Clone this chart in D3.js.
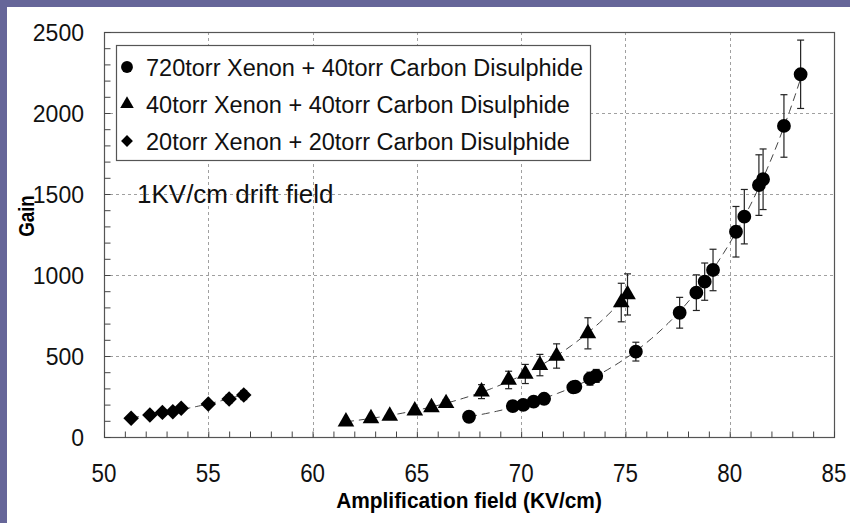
<!DOCTYPE html>
<html>
<head>
<meta charset="utf-8">
<script src="https://cdn.jsdelivr.net/npm/d3@7"></script>
<style>
  body { margin: 0; background: #666699; }
  svg { display: block; font-family: "Liberation Sans", Arial, sans-serif; }
</style>
</head>
<body>
<script>
// 720torr Xenon + 40torr CS2 (circles)
var circleField = [67.5, 69.6, 70.1, 70.6, 71.1, 72.5, 72.6, 73.3, 73.6, 75.5, 77.6, 78.4, 78.8, 79.2, 80.3, 80.7, 81.4, 81.6, 82.6, 83.4];
var circleGain  = [125, 191, 198, 218, 236, 307, 310, 360, 377, 527, 767, 891, 959, 1031, 1267, 1360, 1555, 1591, 1920, 2239];
var circleErr   = [10, 15, 15, 18, 20, 25, 25, 40, 40, 58, 95, 110, 115, 128, 156, 168, 187, 187, 193, 211];

// 40torr Xenon + 40torr CS2 (triangles)
var triField = [61.6, 62.8, 63.7, 64.9, 65.7, 66.4, 68.1, 69.4, 70.2, 70.9, 71.7, 73.2, 74.8, 75.1];
var triGain  = [95, 115, 130, 163, 183, 208, 280, 352, 389, 444, 500, 640, 830, 880];
var triErr   = [10, 12, 13, 16, 18, 21, 43, 54, 59, 66, 75, 96, 119, 127];

// 20torr Xenon + 20torr CS2 (diamonds)
var diaField = [51.3, 52.2, 52.8, 53.3, 53.7, 55.0, 56.0, 56.7];
var diaGain  = [115, 136, 152, 156, 177, 204, 235, 259];
var diaErr   = [8, 10, 10, 12, 12, 20, 25, 28];

var legendLabels = ["720torr Xenon + 40torr Carbon Disulphide",
                    "40torr Xenon + 40torr Carbon Disulphide",
                    "20torr Xenon + 20torr Carbon Disulphide"];
var xTicks = [50, 55, 60, 65, 70, 75, 80, 85];
var yTicks = [0, 500, 1000, 1500, 2000, 2500];

var W = 850, H = 523;
var plotL = 104, plotR = 834, plotT = 32, plotB = 437;

var svg = d3.select("body").append("svg")
  .attr("width", W).attr("height", H);

// slide background with white panel
svg.append("rect").attr("width", W).attr("height", H).attr("fill", "#666699");
svg.append("rect").attr("x", 7).attr("y", 7).attr("width", W - 7).attr("height", H - 7).attr("fill", "#fff");

var x = d3.scaleLinear().domain([50, 85]).range([plotL, plotR]);
var y = d3.scaleLinear().domain([0, 2500]).range([plotB, plotT]);

// grid lines
var grid = svg.append("g").attr("stroke", "#a0a0a0").attr("stroke-dasharray", "3,3").attr("stroke-width", 1);
grid.selectAll(".gx").data(xTicks.slice(1, -1)).enter().append("line")
  .attr("x1", function(d) { return Math.round(x(d)) + 0.5; })
  .attr("x2", function(d) { return Math.round(x(d)) + 0.5; })
  .attr("y1", plotT).attr("y2", plotB);
grid.selectAll(".gy").data(yTicks.slice(1, -1)).enter().append("line")
  .attr("y1", function(d) { return Math.round(y(d)) + 0.5; })
  .attr("y2", function(d) { return Math.round(y(d)) + 0.5; })
  .attr("x1", plotL).attr("x2", plotR);

// frame
svg.append("rect").attr("x", plotL + 0.5).attr("y", plotT + 0.5)
  .attr("width", plotR - plotL).attr("height", plotB - plotT)
  .attr("fill", "none").attr("stroke", "#555").attr("stroke-width", 1.2);

// minor ticks pointing inward
var axisY = d3.axisRight(y).tickValues(d3.range(0, 2501, 100)).tickSize(6).tickFormat("");
svg.append("g").attr("transform", "translate(" + (plotL + 0.5) + ",0)").call(axisY)
  .call(function(g) { g.select(".domain").remove(); g.selectAll("line").attr("stroke", "#444"); });
var axisX = d3.axisTop(x).tickValues(d3.range(50, 85.1, 1)).tickSize(6).tickFormat("");
svg.append("g").attr("transform", "translate(0," + (plotB + 0.5) + ")").call(axisX)
  .call(function(g) { g.select(".domain").remove(); g.selectAll("line").attr("stroke", "#444"); });

// tick labels
svg.selectAll(".yl").data(yTicks).enter().append("text")
  .attr("x", 84).attr("y", function(d) { return y(d) + 9; })
  .attr("text-anchor", "end").attr("font-size", 23).attr("fill", "#111")
  .text(function(d) { return d; });
svg.selectAll(".xl").data(xTicks).enter().append("text")
  .attr("transform", function(d) { return "translate(" + x(d) + ",482) scale(0.86,1)"; })
  .attr("text-anchor", "middle").attr("font-size", 26).attr("fill", "#111")
  .text(function(d) { return d; });

// axis titles
svg.append("text")
  .attr("transform", "translate(" + (plotL + plotR) / 2 + ",508) scale(0.95,1)")
  .attr("text-anchor", "middle").attr("font-size", 22).attr("font-weight", "bold")
  .text("Amplification field (KV/cm)");
svg.append("text")
  .attr("transform", "translate(34,216) rotate(-90) scale(0.85,1)")
  .attr("text-anchor", "middle").attr("font-size", 22).attr("font-weight", "bold")
  .text("Gain");

// exponential fit from the measured points (least squares on log gain)
function expFit(xs, ys) {
  var n = xs.length, sx = 0, sy = 0, sxx = 0, sxy = 0;
  for (var i = 0; i < n; i++) {
    var ly = Math.log(ys[i]);
    sx += xs[i]; sy += ly; sxx += xs[i] * xs[i]; sxy += xs[i] * ly;
  }
  var b = (n * sxy - sx * sy) / (n * sxx - sx * sx);
  var a = (sy - b * sx) / n;
  return function(v) { return Math.exp(a + b * v); };
}

var series = [
  { field: circleField, gain: circleGain, err: circleErr, shape: d3.symbolCircle, size: 150, rot: 0 },
  { field: triField, gain: triGain, err: triErr, shape: d3.symbolTriangle, size: 120, rot: 0 },
  { field: diaField, gain: diaGain, err: diaErr, shape: d3.symbolSquare, size: 120, rot: 45 }
];

var line = d3.line().x(function(d) { return x(d[0]); }).y(function(d) { return y(d[1]); });

series.forEach(function(s) {
  var f = expFit(s.field, s.gain);
  var x0 = d3.min(s.field), x1 = d3.max(s.field);
  var pts = d3.range(0, 61).map(function(i) { var v = x0 + (x1 - x0) * i / 60; return [v, f(v)]; });
  svg.append("path").datum(pts).attr("d", line)
    .attr("fill", "none").attr("stroke", "#444").attr("stroke-width", 1)
    .attr("stroke-dasharray", "8,5");

  var pts2 = s.field.map(function(v, i) { return { x: v, g: s.gain[i], e: s.err[i] }; });
  var eb = svg.append("g").attr("stroke", "#222").attr("stroke-width", 1.2);
  pts2.forEach(function(d) {
    eb.append("line").attr("x1", x(d.x)).attr("x2", x(d.x)).attr("y1", y(d.g - d.e)).attr("y2", y(d.g + d.e));
    eb.append("line").attr("x1", x(d.x) - 3.5).attr("x2", x(d.x) + 3.5).attr("y1", y(d.g - d.e)).attr("y2", y(d.g - d.e));
    eb.append("line").attr("x1", x(d.x) - 3.5).attr("x2", x(d.x) + 3.5).attr("y1", y(d.g + d.e)).attr("y2", y(d.g + d.e));
  });
  svg.append("g").selectAll("path").data(pts2).enter().append("path")
    .attr("d", d3.symbol().type(s.shape).size(s.size))
    .attr("transform", function(d) { return "translate(" + x(d.x) + "," + y(d.g) + ") rotate(" + s.rot + ")"; })
    .attr("fill", "#000");
});

// legend
svg.append("rect").attr("x", 116.5).attr("y", 45.5).attr("width", 474).attr("height", 115)
  .attr("fill", "#fff").attr("stroke", "#555").attr("stroke-width", 1.2);
var legendShapes = [{ t: d3.symbolCircle, s: 110, r: 0 }, { t: d3.symbolTriangle, s: 80, r: 0 }, { t: d3.symbolSquare, s: 70, r: 45 }];
legendLabels.forEach(function(lab, i) {
  var cy = 67 + i * 37;
  svg.append("path").attr("d", d3.symbol().type(legendShapes[i].t).size(legendShapes[i].s))
    .attr("transform", "translate(127," + cy + ") rotate(" + legendShapes[i].r + ")").attr("fill", "#000");
  svg.append("text").attr("x", 146).attr("y", cy + 8.5)
    .attr("font-size", 23.5).attr("fill", "#111").text(lab);
});

// annotation
svg.append("text").attr("x", 137).attr("y", 203).attr("font-size", 26).attr("fill", "#111")
  .text("1KV/cm drift field");
</script>
</body>
</html>
